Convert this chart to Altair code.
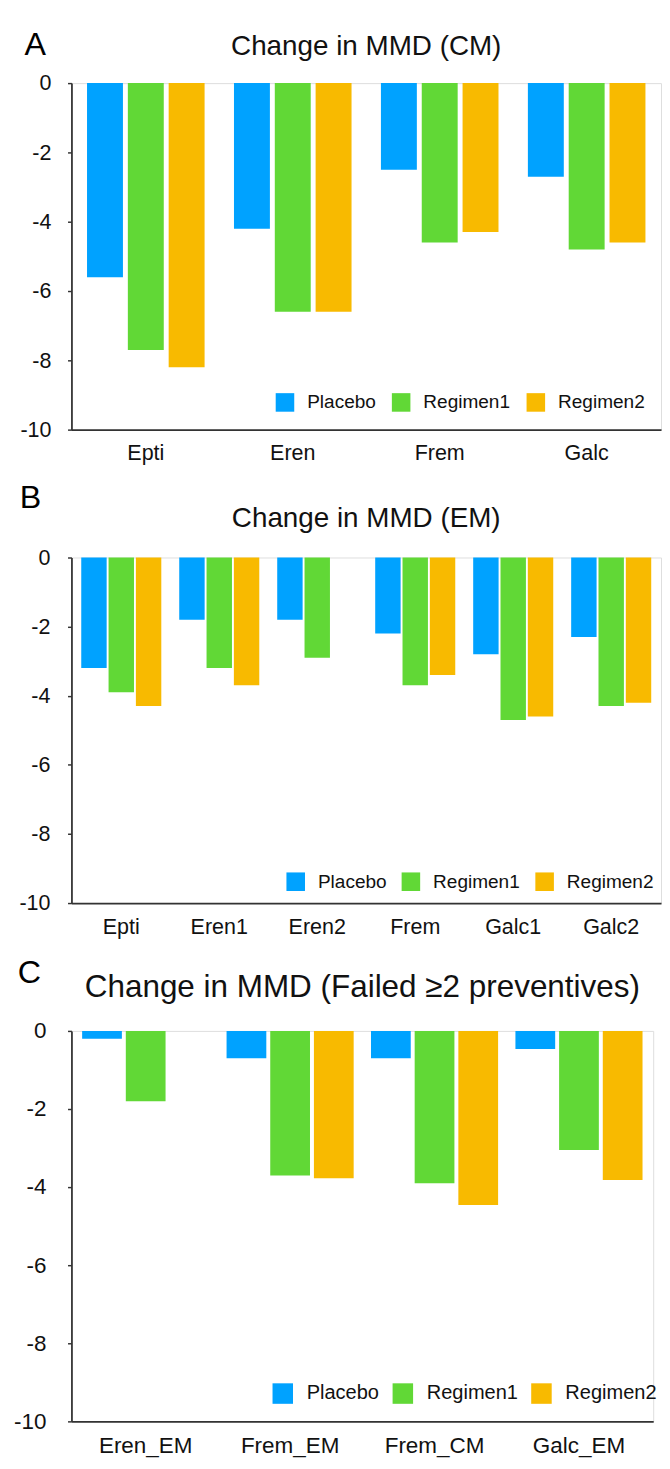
import altair as alt
import pandas as pd

FONT = "Liberation Sans"
SERIES = ["Placebo", "Regimen1", "Regimen2"]
COLORS = ["#00A2FF", "#61D836", "#F8BA00"]
Y_TICKS = [-10, -8, -6, -4, -2, 0]

# Panel A
A_LETTER = "A"
A_TITLE = "Change in MMD (CM)"
A_CATS = ["Epti", "Eren", "Frem", "Galc"]
A_PLACEBO = [-5.6, -4.2, -2.5, -2.7]
A_REG1 = [-7.7, -6.6, -4.6, -4.8]
A_REG2 = [-8.2, -6.6, -4.3, -4.6]

# Panel B
B_LETTER = "B"
B_TITLE = "Change in MMD (EM)"
B_CATS = ["Epti", "Eren1", "Eren2", "Frem", "Galc1", "Galc2"]
B_PLACEBO = [-3.2, -1.8, -1.8, -2.2, -2.8, -2.3]
B_REG1 = [-3.9, -3.2, -2.9, -3.7, -4.7, -4.3]
B_REG2 = [-4.3, -3.7, None, -3.4, -4.6, -4.2]

# Panel C
C_LETTER = "C"
C_TITLE = "Change in MMD (Failed \u22652 preventives)"
C_CATS = ["Eren_EM", "Frem_EM", "Frem_CM", "Galc_EM"]
C_PLACEBO = [-0.2, -0.7, -0.7, -0.46]
C_REG1 = [-1.8, -3.7, -3.9, -3.05]
C_REG2 = [None, -3.77, -4.46, -3.82]


def make_panel(letter, title, cats, placebo, reg1, reg2, cfg):
    rows = []
    for s, vals in zip(SERIES, (placebo, reg1, reg2)):
        for c, v in zip(cats, vals):
            if v is not None:
                rows.append({"category": c, "series": s, "value": v})
    df = pd.DataFrame(rows)

    bars = alt.Chart(df).mark_bar().encode(
        x=alt.X(
            "category:N",
            sort=cats,
            scale=alt.Scale(domain=cats, paddingInner=cfg["pi"], paddingOuter=cfg["po"]),
            axis=alt.Axis(
                title=None, ticks=False, tickSize=0, labelAngle=0,
                labelFontSize=cfg["xfs"], labelPadding=cfg["xlp"],
                labelColor="#111111", labelFont=FONT,
                domainColor="#333333", domainWidth=1.8,
                minExtent=cfg["xext"], maxExtent=cfg["xext"],
            ),
        ),
        xOffset=alt.XOffset(
            "series:N",
            scale=alt.Scale(domain=SERIES, paddingInner=cfg["bpi"], paddingOuter=0),
        ),
        y=alt.Y(
            "value:Q",
            scale=alt.Scale(domain=[-10, 0], nice=False),
            axis=alt.Axis(
                title=None, values=Y_TICKS, grid=False,
                tickSize=4, tickWidth=1.5, tickColor="#333333",
                domainColor="#333333", domainWidth=1.8,
                labelFontSize=cfg["yfs"], labelPadding=cfg["ylp"],
                labelColor="#111111", labelFont=FONT,
                labelExpr="toString(datum.value)",
                minExtent=cfg["yext"], maxExtent=cfg["yext"],
            ),
        ),
        color=alt.Color(
            "series:N",
            scale=alt.Scale(domain=SERIES, range=COLORS),
            legend=alt.Legend(
                title=None, orient="none", legendX=cfg["lgx"], legendY=cfg["lgy"],
                direction="horizontal", symbolType="square",
                symbolSize=cfg["sym"], symbolStrokeWidth=0, symbolOpacity=1,
                labelFontSize=cfg["lgfs"], labelFont=FONT, labelColor="#111111",
                labelOffset=cfg["lgoff"], columnPadding=cfg["lgcol"], padding=0,
            ),
        ),
    )

    lab = pd.DataFrame({"letter": [letter], "title": [title]})
    letter_mark = alt.Chart(lab).mark_text(
        align="left", baseline="alphabetic", font=FONT,
        fontSize=cfg["letfs"], color="#000000",
    ).encode(text="letter:N", x=alt.value(cfg["letx"]), y=alt.value(cfg["lety"]))
    title_mark = alt.Chart(lab).mark_text(
        align="center", baseline="alphabetic", font=FONT,
        fontSize=cfg["tfs"], color="#111111",
    ).encode(text="title:N", x=alt.value(cfg["w"] / 2), y=alt.value(cfg["ty"]))

    return alt.layer(bars, letter_mark, title_mark).properties(
        width=cfg["w"], height=cfg["h"]
    )


cfg_a = dict(w=604, h=355, pi=0.2, po=0.106, bpi=0.12, xfs=22, xlp=14, xext=52,
             yfs=22, ylp=17, yext=57, lgx=209, lgy=317, sym=361, lgfs=19.5,
             lgoff=13, lgcol=16, letfs=33, letx=-48, lety=-29, tfs=28.5, ty=-29)
cfg_b = dict(w=604, h=354, pi=0.183, po=0.1, bpi=0.07, xfs=22, xlp=14, xext=54,
             yfs=22, ylp=18, yext=58, lgx=220, lgy=322, sym=361, lgfs=19.5,
             lgoff=13, lgcol=15, letfs=33, letx=-53, lety=-51, tfs=28.5, ty=-31)
cfg_c = dict(w=596, h=400, pi=0.12, po=0.074, bpi=0.09, xfs=23, xlp=14, xext=36,
             yfs=23, ylp=22, yext=64, lgx=206, lgy=361, sym=441, lgfs=20.5,
             lgoff=14, lgcol=13, letfs=33, letx=-55, lety=-49, tfs=32.2, ty=-35)

pa = make_panel(A_LETTER, A_TITLE, A_CATS, A_PLACEBO, A_REG1, A_REG2, cfg_a)
pb = make_panel(B_LETTER, B_TITLE, B_CATS, B_PLACEBO, B_REG1, B_REG2, cfg_b)
pc = make_panel(C_LETTER, C_TITLE, C_CATS, C_PLACEBO, C_REG1, C_REG2, cfg_c)

chart = (
    alt.vconcat(pa, pb, pc, spacing=0)
    .resolve_scale(color="independent", x="independent", y="independent", xOffset="independent")
    .resolve_legend(color="independent")
    .properties(padding={"left": 0, "top": 3, "right": 0, "bottom": 0})
    .configure_view(stroke=None)
    .configure(background="white")
)

chart.save("out.html", embed_options={"renderer": "svg", "actions": False})
